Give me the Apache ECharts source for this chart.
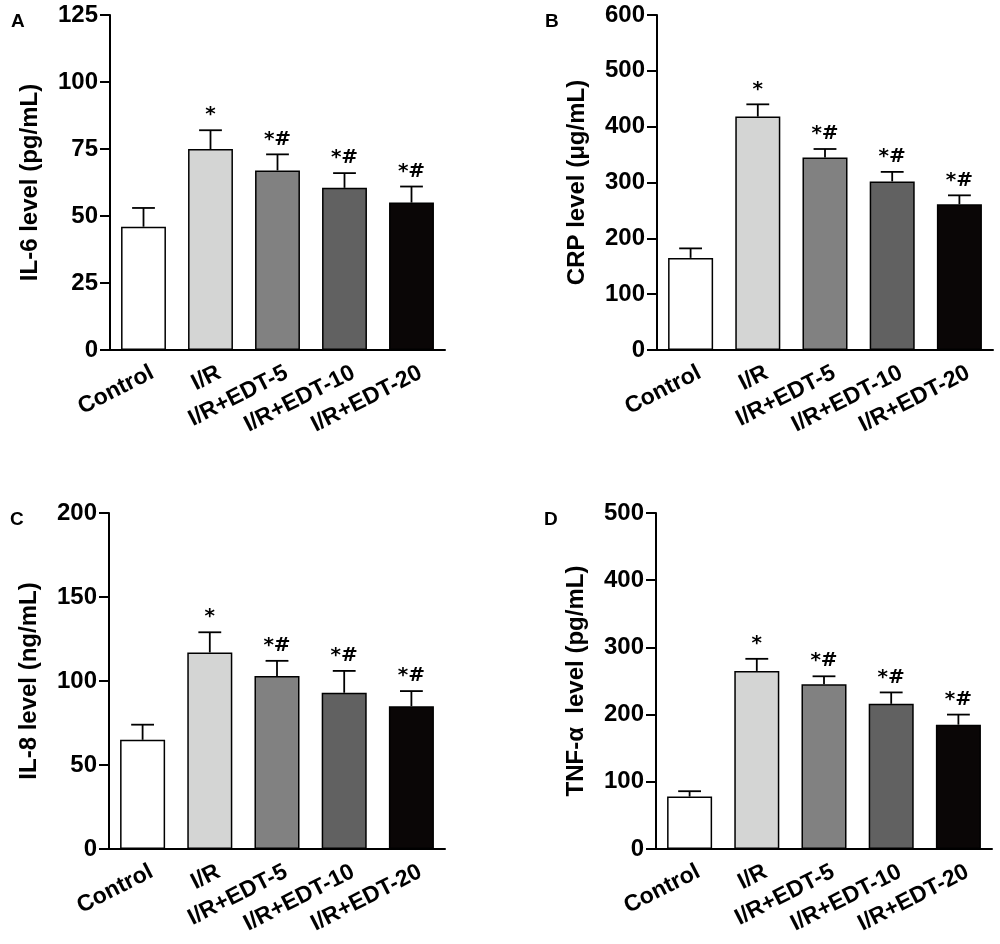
<!DOCTYPE html>
<html>
<head>
<meta charset="utf-8">
<script src="https://cdn.jsdelivr.net/npm/echarts@6/dist/echarts.min.js"></script>
<style>
  html, body { margin: 0; padding: 0; background: #fff; }
  #chart { width: 1000px; height: 944px; }
</style>
</head>
<body>
<div id="chart"></div>
<script>
// groups on the x axis
var categories = ["Control", "I/R", "I/R+EDT-5", "I/R+EDT-10", "I/R+EDT-20"];
var barColors = ["#ffffff", "#d4d5d4", "#818181", "#616161", "#0a0606"];
var marks = ["", "*", "*#", "*#", "*#"];

// A: IL-6 (pg/mL)
var il6Mean = [46, 75, 67, 60.5, 55];
var il6Upper = [53, 82, 73, 66, 61];
// B: CRP (ug/mL)
var crpMean = [165, 418, 345, 302, 261];
var crpUpper = [182, 440, 360, 319, 277];
// C: IL-8 (ng/mL)
var il8Mean = [65, 117, 103, 93, 85];
var il8Upper = [74, 129, 112, 106, 94];
// D: TNF-a (pg/mL)
var tnfMean = [78, 265, 245, 216, 185];
var tnfUpper = [86, 283, 257, 233, 200];

var panels = [
    {tag: "A", name: "IL-6 level (pg/mL)", max: 125, step: 25, mean: il6Mean, upper: il6Upper,
        grid: {left: 110, top: 15, width: 335, height: 335}},
    {tag: "B", name: "CRP level (\u03bcg/mL)", max: 600, step: 100, mean: crpMean, upper: crpUpper,
        grid: {left: 657, top: 15, width: 336, height: 335}},
    {tag: "C", name: "IL-8 level (ng/mL)", max: 200, step: 50, mean: il8Mean, upper: il8Upper,
        grid: {left: 109, top: 513, width: 336, height: 336}},
    {tag: "D", name: "TNF-\u03b1  level (pg/mL)", max: 500, step: 100, mean: tnfMean, upper: tnfUpper,
        grid: {left: 656, top: 513, width: 336, height: 336}}
];

var FONT = "'Liberation Sans', Arial, sans-serif";

var grids = [], xAxes = [], yAxes = [], series = [], titles = [];

panels.forEach(function (p, k) {
    grids.push(p.grid);
    titles.push({
        text: p.tag, left: p.grid.left - (k % 2 === 0 ? 104 : 117), top: p.grid.top - 8,
        textStyle: {fontFamily: FONT, fontWeight: "bold", fontSize: 19, color: "#000"}
    });
    xAxes.push({
        type: "category", gridIndex: k, data: categories,
        axisLine: {lineStyle: {color: "#000", width: 2}},
        axisTick: {alignWithLabel: true, length: 8, lineStyle: {width: 2},
            interval: function (i) { return i === 2; }},
        axisLabel: {rotate: 27, interval: 0, margin: 26, color: "#000", padding: [0, -10, 0, 0],
            fontFamily: FONT, fontWeight: "bold", fontSize: 23}
    });
    yAxes.push({
        type: "value", gridIndex: k, min: 0, max: p.max, interval: p.step,
        name: p.name, nameLocation: "middle", nameGap: 68, nameRotate: 90,
        nameTextStyle: {fontFamily: FONT, fontWeight: "bold", fontSize: 24, color: "#000"},
        splitLine: {show: false},
        axisLine: {show: true, lineStyle: {color: "#000", width: 2}},
        axisTick: {show: true, length: 10, lineStyle: {width: 2}},
        axisLabel: {color: "#000", fontFamily: FONT, fontWeight: "bold", fontSize: 24, margin: 12}
    });
    series.push({
        type: "bar", xAxisIndex: k, yAxisIndex: k, barCategoryGap: "33%", z: 3,
        data: p.mean.map(function (v, i) {
            return {value: v, itemStyle: {color: barColors[i]}};
        }),
        itemStyle: {borderColor: "#000", borderWidth: 1.5}
    });
    series.push({
        type: "custom", xAxisIndex: k, yAxisIndex: k, z: 2,
        data: p.mean.map(function (v, i) { return [i, v, p.upper[i]]; }),
        renderItem: function (params, api) {
            var base = api.coord([api.value(0), api.value(1)]);
            var top = api.coord([api.value(0), api.value(2)]);
            var half = api.size([1, 0])[0] * 0.17;
            var st = {stroke: "#000", lineWidth: 1.8};
            return {
                type: "group",
                children: [
                    {type: "line", shape: {x1: base[0], y1: base[1], x2: top[0], y2: top[1]}, style: st},
                    {type: "line", shape: {x1: top[0] - half, y1: top[1], x2: top[0] + half, y2: top[1]}, style: st},
                    {type: "text", x: top[0], y: top[1] - 5, style: {
                        text: marks[params.dataIndex], fill: "#000",
                        font: "bold 20px 'DejaVu Sans', " + FONT,
                        textAlign: "center", textVerticalAlign: "bottom",
                        align: "center", verticalAlign: "bottom"
                    }}
                ]
            };
        }
    });
});

var chart = echarts.init(document.getElementById("chart"), null, {renderer: "canvas"});
chart.setOption({
    animation: false,
    backgroundColor: "#fff",
    title: titles,
    grid: grids,
    xAxis: xAxes,
    yAxis: yAxes,
    series: series
});
</script>
</body>
</html>
